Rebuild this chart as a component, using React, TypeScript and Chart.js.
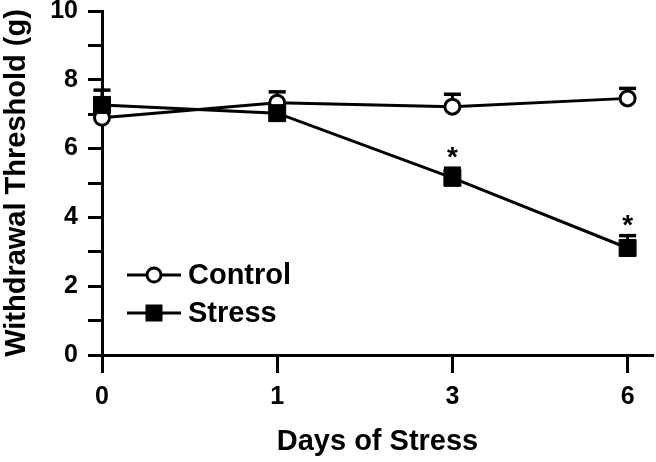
import React, { useEffect, useRef } from 'react';
import { Chart, registerables } from 'chart.js';

Chart.register(...registerables);

const days = ['0', '1', '3', '6'];
const controlMean = [6.9, 7.33, 7.22, 7.46];
const controlErr = [0.25, 0.32, 0.36, 0.29];
const stressMean = [7.27, 7.03, 5.15, 3.11];
const stressErr = [0.43, 0.2, 0.28, 0.36];
const stressMarks = ['', '', '*', '*'];
const yTicks = [0, 1, 2, 3, 4, 5, 6, 7, 8, 9, 10];

const FONT = '"Liberation Sans", Arial, Helvetica, sans-serif';

const errorBarPlugin = {
  id: 'errorBars',
  beforeDatasetsDraw(chart: any) {
    const ctx = chart.ctx;
    const ys = chart.scales.y;
    chart.data.datasets.forEach((ds: any, di: number) => {
      const meta = chart.getDatasetMeta(di);
      meta.data.forEach((pt: any, i: number) => {
        const top = ys.getPixelForValue(ds.data[i].y + ds.errors[i]);
        ctx.save();
        ctx.strokeStyle = '#000';
        ctx.lineWidth = 3;
        ctx.beginPath();
        ctx.moveTo(pt.x, pt.y);
        ctx.lineTo(pt.x, top);
        ctx.stroke();
        ctx.lineWidth = 3.5;
        ctx.beginPath();
        ctx.moveTo(pt.x - 8.5, top);
        ctx.lineTo(pt.x + 8.5, top);
        ctx.stroke();
        ctx.restore();
      });
    });
  },
  afterDatasetsDraw(chart: any) {
    const ctx = chart.ctx;
    const ys = chart.scales.y;
    chart.data.datasets.forEach((ds: any, di: number) => {
      if (!ds.marks) return;
      const meta = chart.getDatasetMeta(di);
      meta.data.forEach((pt: any, i: number) => {
        const m = ds.marks[i];
        if (!m) return;
        const top = ys.getPixelForValue(ds.data[i].y + ds.errors[i]);
        ctx.save();
        ctx.fillStyle = '#000';
        ctx.font = `bold 28px ${FONT}`;
        ctx.textAlign = 'center';
        ctx.textBaseline = 'alphabetic';
        ctx.fillText(m, pt.x, top - 2);
        ctx.restore();
      });
    });
  },
};

const legendPlugin = {
  id: 'customLegend',
  afterDraw(chart: any) {
    const ctx = chart.ctx;
    const area = chart.chartArea;
    const rows = [
      { ds: chart.data.datasets[0], dy: 80 },
      { ds: chart.data.datasets[1], dy: 42 },
    ];
    rows.forEach(({ ds, dy }) => {
      const y = area.bottom - dy;
      const x0 = area.left + 25;
      const x1 = area.left + 79;
      const cx = (x0 + x1) / 2;
      ctx.save();
      ctx.strokeStyle = '#000';
      ctx.lineWidth = 3;
      ctx.beginPath();
      ctx.moveTo(x0, y);
      ctx.lineTo(x1, y);
      ctx.stroke();
      if (ds.pointStyle === 'circle') {
        ctx.beginPath();
        ctx.arc(cx, y, 7, 0, Math.PI * 2);
        ctx.fillStyle = '#fff';
        ctx.fill();
        ctx.lineWidth = 3;
        ctx.stroke();
      } else {
        ctx.fillStyle = '#000';
        ctx.fillRect(cx - 8.5, y - 8.5, 17, 17);
      }
      ctx.fillStyle = '#000';
      ctx.font = `bold 29px ${FONT}`;
      ctx.textAlign = 'left';
      ctx.textBaseline = 'middle';
      ctx.fillText(ds.label, area.left + 86, y + 1);
      ctx.restore();
    });
  },
};

export default function App() {
  const ref = useRef<HTMLCanvasElement>(null);

  useEffect(() => {
    if (!ref.current) return;
    const tickFont = { family: FONT, size: 25, weight: 'bold' as const };
    const titleFont = { family: FONT, size: 29, weight: 'bold' as const, lineHeight: 1.2 };
    const chart = new Chart(ref.current, {
      type: 'line',
      data: {
        datasets: [
          {
            label: 'Control',
            data: days.map((_, i) => ({ x: i, y: controlMean[i] })),
            errors: controlErr,
            borderColor: '#000',
            borderWidth: 3,
            pointStyle: 'circle',
            pointRadius: 7.5,
            pointBorderWidth: 3,
            pointBackgroundColor: '#fff',
            pointBorderColor: '#000',
            clip: false,
            order: 2,
          } as any,
          {
            label: 'Stress',
            data: days.map((_, i) => ({ x: i, y: stressMean[i] })),
            errors: stressErr,
            marks: stressMarks,
            borderColor: '#000',
            borderWidth: 3,
            pointStyle: 'rect',
            pointRadius: 12,
            pointBorderWidth: 1,
            pointBackgroundColor: '#000',
            pointBorderColor: '#000',
            clip: false,
            order: 1,
          } as any,
        ],
      },
      options: {
        animation: false,
        responsive: false,
        layout: { autoPadding: false, padding: { left: 0, right: 3, top: 11, bottom: 0 } },
        plugins: { legend: { display: false }, tooltip: { enabled: false } },
        scales: {
          x: {
            type: 'linear',
            min: 0,
            max: 3.145,
            afterBuildTicks(scale: any) {
              scale.ticks = days.map((_, i) => ({ value: i }));
            },
            afterFit(scale: any) {
              scale.height = 107;
              scale.paddingLeft = 0;
              scale.paddingRight = 0;
            },
            ticks: {
              autoSkip: false,
              maxRotation: 0,
              padding: 9,
              color: '#000',
              font: tickFont,
              callback: (v: any) => days[v] ?? '',
            },
            grid: { drawOnChartArea: false, drawTicks: true, tickLength: 18, tickWidth: 3, color: '#000' },
            border: { display: true, width: 3, color: '#000' },
            title: {
              display: true,
              text: 'Days of Stress',
              color: '#000',
              font: titleFont,
              padding: { top: 0, bottom: 3 },
            },
          },
          y: {
            min: 0,
            max: 10,
            afterBuildTicks(scale: any) {
              scale.ticks = yTicks.map((v) => ({ value: v }));
            },
            afterFit(scale: any) {
              scale.width = 102;
              scale.paddingTop = 0;
              scale.paddingBottom = 0;
            },
            ticks: {
              autoSkip: false,
              padding: 10,
              color: '#000',
              font: tickFont,
              callback: (v: any) => (v % 2 === 0 ? String(v) : ''),
            },
            grid: { drawOnChartArea: false, drawTicks: true, tickLength: 14, tickWidth: 3, color: '#000' },
            border: { display: true, width: 3, color: '#000' },
            title: {
              display: true,
              text: 'Withdrawal Threshold (g)',
              color: '#000',
              font: titleFont,
              padding: { top: 0, bottom: 0 },
            },
          },
        },
      } as any,
      plugins: [errorBarPlugin, legendPlugin],
    });
    return () => chart.destroy();
  }, []);

  return (
    <div style={{ position: 'fixed', left: 0, top: 0, width: 656, height: 462, background: '#fff' }}>
      <canvas ref={ref} width={656} height={462} style={{ display: 'block', width: 656, height: 462 }} />
    </div>
  );
}
